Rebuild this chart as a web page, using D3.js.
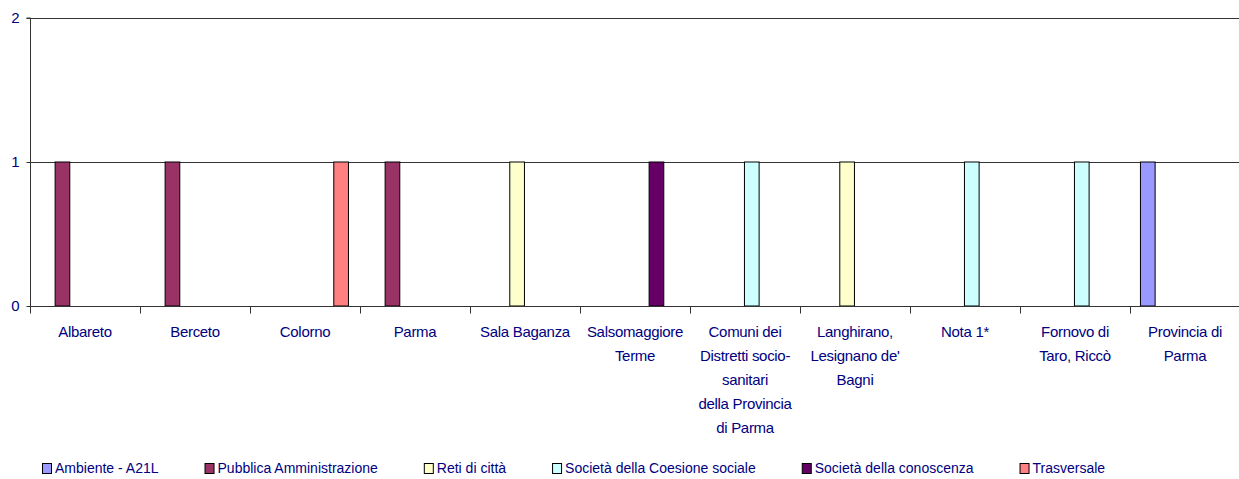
<!DOCTYPE html>
<html>
<head>
<meta charset="utf-8">
<script src="https://cdn.jsdelivr.net/npm/d3@7"></script>
<style>
  html, body { margin: 0; padding: 0; background: #fff; }
  svg { display: block; }
  text { font-family: "Liberation Sans", Arial, sans-serif; fill: #000080; }
</style>
</head>
<body>
<svg id="chart" width="1239" height="479"></svg>
<script>
// Project labels (each entry is the list of wrapped lines under the axis)
const categories = [
  ["Albareto"],
  ["Berceto"],
  ["Colorno"],
  ["Parma"],
  ["Sala Baganza"],
  ["Salsomaggiore", "Terme"],
  ["Comuni dei", "Distretti socio-", "sanitari", "della Provincia", "di  Parma"],
  ["Langhirano,", "Lesignano de'", "Bagni"],
  ["Nota 1*"],
  ["Fornovo di", "Taro, Riccò"],
  ["Provincia di", "Parma"]
];

// Thematic areas
const seriesNames = [
  "Ambiente - A21L",
  "Pubblica Amministrazione",
  "Reti di città",
  "Società della Coesione sociale",
  "Società della conoscenza",
  "Trasversale"
];

const seriesColors = ["#9999FF", "#993366", "#FFFFCC", "#CCFFFF", "#660066", "#FF8080"];

// Number of projects per category, one array per thematic area
const ambiente      = [0, 0, 0, 0, 0, 0, 0, 0, 0, 0, 1];
const pubblicaAmm   = [1, 1, 0, 1, 0, 0, 0, 0, 0, 0, 0];
const retiCitta     = [0, 0, 0, 0, 1, 0, 0, 1, 0, 0, 0];
const coesione      = [0, 0, 0, 0, 0, 0, 1, 0, 1, 1, 0];
const conoscenza    = [0, 0, 0, 0, 0, 1, 0, 0, 0, 0, 0];
const trasversale   = [0, 0, 1, 0, 0, 0, 0, 0, 0, 0, 0];

const seriesValues = [ambiente, pubblicaAmm, retiCitta, coesione, conoscenza, trasversale];

const yTicks = [0, 1, 2];

const svg = d3.select("#chart");

const plot = { left: 30, right: 1240, top: 18, bottom: 306 };

const catKeys = categories.map((c, i) => i);

const x0 = d3.scaleBand()
  .domain(catKeys)
  .range([plot.left, plot.right])
  .padding(0);

const x1 = d3.scaleBand()
  .domain(seriesNames)
  .range([x0.bandwidth() * 0.095, x0.bandwidth() * 0.895])
  .padding(0);

const y = d3.scaleLinear()
  .domain([0, 2])
  .range([plot.bottom, plot.top]);

// Horizontal gridlines
svg.append("g")
  .selectAll("line")
  .data(yTicks.filter(t => t > 0))
  .join("line")
  .attr("x1", plot.left)
  .attr("x2", 1239)
  .attr("y1", d => Math.round(y(d)) + 0.5)
  .attr("y2", d => Math.round(y(d)) + 0.5)
  .attr("stroke", "#333")
  .attr("stroke-width", 1);

// Bars
const bars = [];
seriesValues.forEach((vals, s) => {
  vals.forEach((v, c) => {
    if (v > 0) bars.push({ s, c, v });
  });
});

svg.append("g")
  .selectAll("rect")
  .data(bars)
  .join("rect")
  .attr("x", d => x0(d.c) + x1(seriesNames[d.s]))
  .attr("y", d => y(d.v))
  .attr("width", x1.bandwidth())
  .attr("height", d => y(0) - y(d.v))
  .attr("fill", d => seriesColors[d.s])
  .attr("stroke", "#000")
  .attr("stroke-width", 1);

// Y axis
const yAxis = svg.append("g")
  .attr("transform", `translate(${plot.left + 0.5},0)`)
  .call(d3.axisLeft(y).tickValues(yTicks).tickSize(4).tickPadding(7).tickFormat(d3.format("d")));
yAxis.select(".domain").attr("stroke", "#333").attr("d", `M-4,${plot.top}H0V${plot.bottom + 7}`);
yAxis.selectAll(".tick line").attr("stroke", "#333");
yAxis.selectAll(".tick text")
  .attr("fill", "#000080")
  .style("font-size", "15px")
  .style("font-family", "'Liberation Sans', Arial, sans-serif");

// X axis baseline with category dividers
const xAxis = svg.append("g")
  .attr("transform", `translate(0,${Math.round(plot.bottom) + 0.5})`);
xAxis.append("line")
  .attr("x1", plot.left)
  .attr("x2", 1239)
  .attr("stroke", "#333");
xAxis.selectAll("line.div")
  .data(catKeys.concat([categories.length]))
  .join("line")
  .attr("class", "div")
  .attr("x1", d => Math.round(d < categories.length ? x0(d) : plot.right) + 0.5)
  .attr("x2", d => Math.round(d < categories.length ? x0(d) : plot.right) + 0.5)
  .attr("y1", 0)
  .attr("y2", 7)
  .attr("stroke", "#333");

// Category labels
const labels = svg.append("g")
  .selectAll("text")
  .data(catKeys)
  .join("text")
  .attr("text-anchor", "middle")
  .style("font-size", "15px")
  .style("letter-spacing", "-0.3px")
  .attr("x", d => x0(d) + x0.bandwidth() / 2)
  .attr("y", 337);
labels.selectAll("tspan")
  .data(d => categories[d])
  .join("tspan")
  .attr("x", function () { return d3.select(this.parentNode).attr("x"); })
  .attr("dy", (d, i) => i === 0 ? 0 : 24)
  .text(d => d);

// Legend
const legend = svg.append("g").attr("transform", "translate(42,463)");
let lx = 0;
seriesNames.forEach((name, i) => {
  const g = legend.append("g").attr("transform", `translate(${lx},0)`);
  g.append("rect")
    .attr("x", 0.5).attr("y", 0.5)
    .attr("width", 9).attr("height", 10)
    .attr("fill", seriesColors[i])
    .attr("stroke", "#000");
  const t = g.append("text")
    .attr("x", 13)
    .attr("y", 10)
    .style("font-size", "14px")
    .text(name);
  lx += 13 + t.node().getComputedTextLength() + 46;
});
</script>
</body>
</html>
